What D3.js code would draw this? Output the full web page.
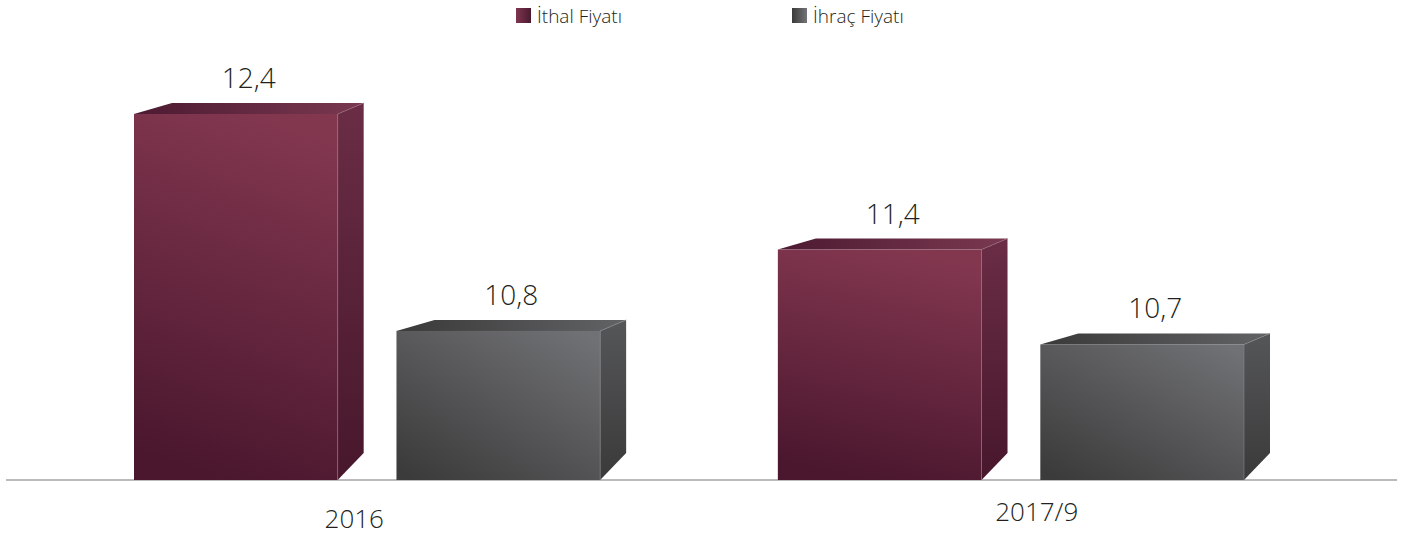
<!DOCTYPE html>
<html>
<head>
<meta charset="utf-8">
<script src="https://d3js.org/d3.v7.min.js"></script>
<style>
    body {
        margin: 0;
        background: #fff;
        font-family: "Open Sans", "Noto Sans", sans-serif;
    }
    svg {
        display: block;
    }
    text {
        font-weight: 300;
    }
</style>
</head>
<body>
<script>
    const width = 1410,
        height = 536;

    // chart data
    const categories = ["2016", "2017/9"];
    const series = ["İthal Fiyatı", "İhraç Fiyatı"];
    const ithal = [12.4, 11.4];
    const ihrac = [10.8, 10.7];
    const valueLabels = [["12,4", "10,8"], ["11,4", "10,7"]];

    const baseY = 480;
    const depthX = 26, depthY = 11, floorY = 27, skewX = 38;
    const catLabelY = [528, 521];

    const svg = d3.select("body").append("svg").attr("width", width).attr("height", height);
    const defs = svg.append("defs");

    function grad(id, x1, y1, x2, y2, c1, c2) {
        const g = defs.append("linearGradient").attr("id", id)
            .attr("x1", x1).attr("y1", y1).attr("x2", x2).attr("y2", y2);
        g.append("stop").attr("offset", "0%").attr("stop-color", c1);
        g.append("stop").attr("offset", "100%").attr("stop-color", c2);
    }

    // faces: front / side / top for each series
    const palette = [
        { front: ["#4a172e", "#82374f"], side: ["#6a2d45", "#47172c"], top: ["#4c1a31", "#7a3950"], legend: ["#7f3550", "#4a1a2f"], edge: "#9b6a7c" },
        { front: ["#3b3b3b", "#707174"], side: ["#555658", "#3a3a3a"], top: ["#393939", "#626365"], legend: ["#3a3a3a", "#747477"], edge: "#8a8a8c" }
    ];
    palette.forEach((p, i) => {
        if (i === 0) grad("front" + i, 0.4, 1, 0.6, 0, p.front[0], p.front[1]);
        else grad("front" + i, 0.1, 1, 0.9, 0, p.front[0], p.front[1]);
        grad("side" + i, 0, 0, 0, 1, p.side[0], p.side[1]);
        grad("top" + i, 0, 0, 1, 0, p.top[0], p.top[1]);
        grad("leg" + i, 0, 0, 1, 0, p.legend[0], p.legend[1]);
    });

    // scales
    const x0 = d3.scaleBand().domain(categories).range([134, 1244]).paddingInner(0.276);
    const x1 = d3.scaleBand().domain(series).range([0, x0.bandwidth()]).paddingInner(0.224);
    const y = d3.scaleLinear().domain([9.7, 12.4]).range([baseY, 114]);
    const xAxis = d3.scaleBand().domain(categories).range([13, 1378]);

    const rows = categories.flatMap((c, ci) => [
        { cat: c, s: series[0], si: 0, v: ithal[ci], label: valueLabels[ci][0] },
        { cat: c, s: series[1], si: 1, v: ihrac[ci], label: valueLabels[ci][1] }
    ]);

    // baseline
    svg.append("line")
        .attr("x1", 6).attr("x2", 1397)
        .attr("y1", baseY).attr("y2", baseY)
        .attr("stroke", "#a4a4a8").attr("stroke-width", 1.5);

    const bars = svg.selectAll(".bar")
        .data(rows)
        .join("g")
        .attr("class", "bar");

    bars.each(function (d) {
        const g = d3.select(this);
        const x = x0(d.cat) + x1(d.s);
        const w = x1.bandwidth();
        const yt = y(d.v);
        const p = palette[d.si];

        // side face
        g.append("path")
            .attr("d", `M${x + w},${yt}L${x + w + depthX},${yt - depthY}L${x + w + depthX},${baseY - floorY}L${x + w},${baseY}Z`)
            .attr("fill", `url(#side${d.si})`);
        // top face
        g.append("path")
            .attr("d", `M${x},${yt}L${x + skewX},${yt - depthY}L${x + w + depthX},${yt - depthY}L${x + w},${yt}Z`)
            .attr("fill", `url(#top${d.si})`);
        // front face
        g.append("rect")
            .attr("x", x).attr("y", yt)
            .attr("width", w).attr("height", baseY - yt)
            .attr("fill", `url(#front${d.si})`);
        // light edges
        g.append("path")
            .attr("d", `M${x + w},${baseY}L${x + w},${yt}L${x + w + depthX},${yt - depthY}`)
            .attr("fill", "none")
            .attr("stroke", p.edge)
            .attr("stroke-width", 0.8)
            .attr("opacity", 0.7);

        g.append("text")
            .attr("x", x + (w + depthX) / 2)
            .attr("y", yt - 26)
            .attr("text-anchor", "middle")
            .attr("font-size", 28)
            .attr("fill", "#231f20")
            .text(d.label);
    });

    // category labels
    svg.selectAll(".cat")
        .data(categories)
        .join("text")
        .attr("class", "cat")
        .attr("x", d => xAxis(d) + xAxis.bandwidth() / 2)
        .attr("y", (d, i) => catLabelY[i])
        .attr("text-anchor", "middle")
        .attr("font-size", 26)
        .attr("fill", "#231f20")
        .text(d => d);

    // legend
    const legendX = [516, 792];
    const legend = svg.selectAll(".legend")
        .data(series)
        .join("g")
        .attr("class", "legend")
        .attr("transform", (d, i) => `translate(${legendX[i]},8)`);
    legend.append("rect")
        .attr("width", 15).attr("height", 15)
        .attr("fill", (d, i) => `url(#leg${i})`);
    legend.append("text")
        .attr("x", 21).attr("y", 15)
        .attr("font-size", 19)
        .attr("fill", "#231f20")
        .text(d => d);
</script>
</body>
</html>
